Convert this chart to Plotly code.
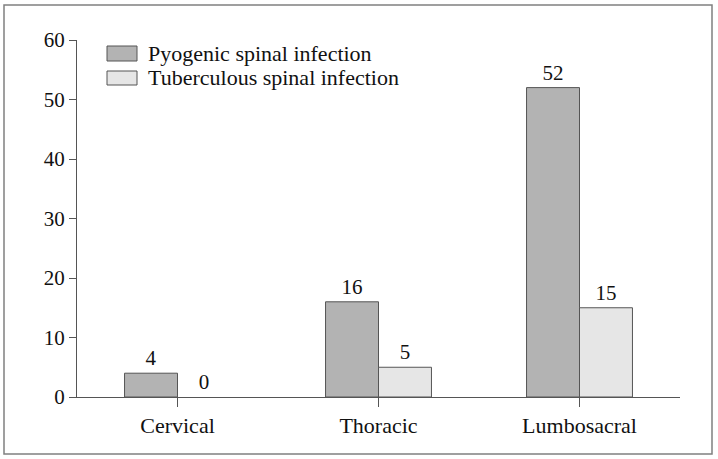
import plotly.graph_objects as go

categories = ["Cervical", "Thoracic", "Lumbosacral"]
pyogenic = [4, 16, 52]
tuberculous = [0, 5, 15]
series_names = ["Pyogenic spinal infection", "Tuberculous spinal infection"]
series_colors = ["#b3b3b3", "#e6e6e6"]
y_ticks = [0, 10, 20, 30, 40, 50, 60]

FONT = "Liberation Serif"
TXT = "#111111"
LINE = "#555555"

L, R, T, B = 77, 38, 40, 62
W, H = 718, 459
PW, PH = W - L - R, H - T - B


def px(x):
    return (x - L) / PW


def py(y):
    return (H - B - y) / PH


fig = go.Figure()
for vals, name, col in zip([pyogenic, tuberculous], series_names, series_colors):
    fig.add_trace(go.Bar(
        x=categories, y=vals, name=name,
        marker=dict(color=col, line=dict(color=LINE, width=[1 if v else 0 for v in vals])),
        text=[str(v) for v in vals], textposition="outside",
        textfont=dict(family=FONT, size=21, color=TXT), cliponaxis=False,
        showlegend=False,
    ))

shapes = [dict(type="rect", xref="paper", yref="paper",
               x0=px(4), x1=px(712), y0=py(454), y1=py(5),
               line=dict(color="#808080", width=1.5), fillcolor="rgba(0,0,0,0)", layer="below")]
annotations = []
legend_rows = [(46, 61), (71, 85)]
for (y0, y1), name, col in zip(legend_rows, series_names, series_colors):
    shapes.append(dict(type="rect", xref="paper", yref="paper",
                       x0=px(107), x1=px(137), y0=py(y1), y1=py(y0),
                       line=dict(color=LINE, width=1), fillcolor=col))
    annotations.append(dict(xref="paper", yref="paper", x=px(146), y=py((y0 + y1) / 2),
                            xanchor="left", yanchor="middle", showarrow=False, text=name,
                            font=dict(family=FONT, size=22, color=TXT)))

fig.update_layout(
    width=W, height=H,
    margin=dict(l=L, r=R, t=T, b=B),
    paper_bgcolor="white", plot_bgcolor="white",
    barmode="group", bargap=0.473, bargroupgap=0,
    font=dict(family=FONT, size=21, color=TXT),
    showlegend=False,
    xaxis=dict(range=[-0.5, 2.5], showline=True, linecolor=LINE, linewidth=1,
               ticks="outside", ticklen=9, tickcolor=LINE, showgrid=False,
               tickfont=dict(family=FONT, size=22, color=TXT), zeroline=False),
    yaxis=dict(range=[0, 60], tickvals=y_ticks, showline=True, linecolor=LINE, linewidth=1,
               ticks="outside", ticklen=7, tickcolor=LINE, showgrid=False, zeroline=False,
               tickfont=dict(family=FONT, size=21, color=TXT)),
    shapes=shapes,
    annotations=annotations,
)

fig.write_html("out.html", config={"displayModeBar": False},
               post_script="document.body.style.margin='0';")
